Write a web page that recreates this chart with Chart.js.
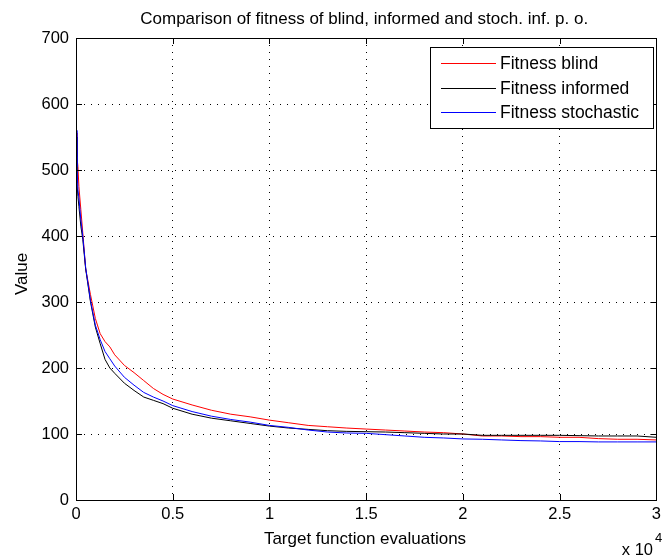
<!DOCTYPE html>
<html>
<head>
<meta charset="utf-8">
<script src="https://cdn.jsdelivr.net/npm/chart.js@4"></script>
<style>
  html, body { margin: 0; padding: 0; background: #fff; }
  #wrap { width: 666px; height: 559px; }
</style>
</head>
<body>
<div id="wrap"><canvas id="fitnessChart" width="666" height="559"></canvas></div>
<script>
// evaluation counts where the fitness was recorded
const evals = [0, 50, 100, 150, 250, 350, 500, 750, 1000, 1250, 1500, 1750, 2000, 2500, 3000, 3500, 4000, 4500, 5000,
  6000, 7000, 8000, 9000, 10000, 11000, 12000, 13000, 14000, 15000, 16000, 17000, 18000, 19000, 20000,
  21000, 22000, 23000, 24000, 25000, 26000, 27000, 28000, 29000, 30000];

const fitnessBlind = [556, 520, 505, 475, 440, 405, 350, 311, 275, 252, 240, 232, 220, 204, 193, 181, 169, 160, 153,
  144, 136, 130, 126, 121, 117, 113, 111, 109, 107.5, 106, 104.5, 103, 102, 100,
  97, 97, 96, 96, 95, 95, 93, 92, 92, 91];

const fitnessInformed = [550, 480, 460, 445, 415, 395, 350, 300, 262, 237, 213, 200, 192, 177, 166, 156, 151, 146, 139,
  130, 124, 120, 116, 112, 109, 107, 105, 104, 103.5, 103, 102, 101, 100, 100,
  98, 98, 98, 98, 98, 97.5, 97, 97, 97, 95];

const fitnessStochastic = [560, 505, 470, 458, 425, 400, 352, 302, 265, 243, 225, 214, 203, 186, 174, 163, 156, 150, 143,
  134, 127, 122, 118, 113, 110, 106, 103, 101.5, 101, 99, 97, 95, 94, 92.5,
  92, 91, 90, 89.5, 88.5, 88.5, 88, 88, 88, 88];

const seriesLabels = ['Fitness blind', 'Fitness informed', 'Fitness stochastic'];
const seriesColors = ['#ff0000', '#000000', '#0000ff'];
const xTicks = [0, 5000, 10000, 15000, 20000, 25000, 30000];

const FONT = '"Liberation Sans", Arial, sans-serif';

function toPoints(ys) {
  return evals.map((x, i) => ({ x: x, y: ys[i] }));
}

// matlab-style frame: full box, inward ticks, titles and legend inside the axes
const matlabFrame = {
  id: 'matlabFrame',
  afterDraw(chart) {
    const c = chart.ctx;
    const a = chart.chartArea;
    const xs = chart.scales.x, ys = chart.scales.y;
    c.save();
    c.strokeStyle = '#000';
    c.lineWidth = 1;
    c.strokeRect(Math.round(a.left) + 0.5, Math.round(a.top) + 0.5,
      Math.round(a.right - a.left), Math.round(a.bottom - a.top));

    // inward tick marks on all four sides
    const tl = 6;
    c.beginPath();
    xTicks.forEach(v => {
      const px = Math.round(xs.getPixelForValue(v)) + 0.5;
      c.moveTo(px, a.bottom); c.lineTo(px, a.bottom - tl);
      c.moveTo(px, a.top); c.lineTo(px, a.top + tl);
    });
    for (let v = 0; v <= 700; v += 100) {
      const py = Math.round(ys.getPixelForValue(v)) + 0.5;
      c.moveTo(a.left, py); c.lineTo(a.left + tl, py);
      c.moveTo(a.right, py); c.lineTo(a.right - tl, py);
    }
    c.stroke();

    c.fillStyle = '#000';
    c.textAlign = 'center';
    c.textBaseline = 'alphabetic';
    c.font = '17px ' + FONT;
    c.fillText('Comparison of fitness of blind, informed and stoch. inf. p. o.', (a.left + a.right) / 2 - 2, 24);

    c.fillText('Target function evaluations', 365, 544);

    c.save();
    c.translate(27, 274);
    c.rotate(-Math.PI / 2);
    c.fillText('Value', 0, 0);
    c.restore();

    c.textAlign = 'right';
    c.font = '16.5px ' + FONT;
    c.fillText('x 10', 653, 555);
    c.textAlign = 'left';
    c.font = '13px ' + FONT;
    c.fillText('4', 655, 542);

    // legend box
    const lx = 430, ly = 47, lw = 223, lh = 81;
    c.fillStyle = '#fff';
    c.fillRect(lx, ly, lw, lh);
    c.strokeStyle = '#000';
    c.strokeRect(lx + 0.5, ly + 0.5, lw, lh);
    c.font = '17.5px ' + FONT;
    c.textBaseline = 'middle';
    chart.data.datasets.forEach((ds, i) => {
      const ry = [63, 88, 112][i];
      c.strokeStyle = ds.borderColor;
      c.beginPath();
      c.moveTo(441, ry + 0.5); c.lineTo(496, ry + 0.5);
      c.stroke();
      c.fillStyle = '#000';
      c.fillText(ds.label, 500, ry + 1);
    });
    c.restore();
  }
};

const ctx = document.getElementById('fitnessChart').getContext('2d');

new Chart(ctx, {
  type: 'line',
  data: {
    datasets: [
      { label: seriesLabels[0], data: toPoints(fitnessBlind), borderColor: seriesColors[0], order: 3 },
      { label: seriesLabels[1], data: toPoints(fitnessInformed), borderColor: seriesColors[1], order: 2 },
      { label: seriesLabels[2], data: toPoints(fitnessStochastic), borderColor: seriesColors[2], order: 1 }
    ]
  },
  options: {
    responsive: false,
    animation: false,
    devicePixelRatio: 1,
    layout: { padding: { left: 0, right: 4, top: 38, bottom: 0 } },
    elements: {
      line: { borderWidth: 1, tension: 0, fill: false },
      point: { radius: 0 }
    },
    plugins: {
      legend: { display: false },
      tooltip: { enabled: false }
    },
    scales: {
      x: {
        type: 'linear',
        min: 0,
        max: 30000,
        afterFit(s) { s.height = 59; },
        afterBuildTicks(s) { s.ticks = xTicks.map(v => ({ value: v })); },
        ticks: {
          color: '#000',
          font: { family: FONT, size: 16.5 },
          padding: 5,
          maxRotation: 0,
          callback: v => String(v / 10000)
        },
        grid: { color: '#000', lineWidth: 1, drawTicks: false },
        border: { display: true, color: '#000', dash: [1, 6] }
      },
      y: {
        min: 0,
        max: 700,
        afterFit(s) { s.width = 76; },
        ticks: {
          stepSize: 100,
          color: '#000',
          font: { family: FONT, size: 16.5 },
          padding: 7
        },
        grid: { color: '#000', lineWidth: 1, drawTicks: false },
        border: { display: true, color: '#000', dash: [1, 6] }
      }
    }
  },
  plugins: [matlabFrame]
});
</script>
</body>
</html>
